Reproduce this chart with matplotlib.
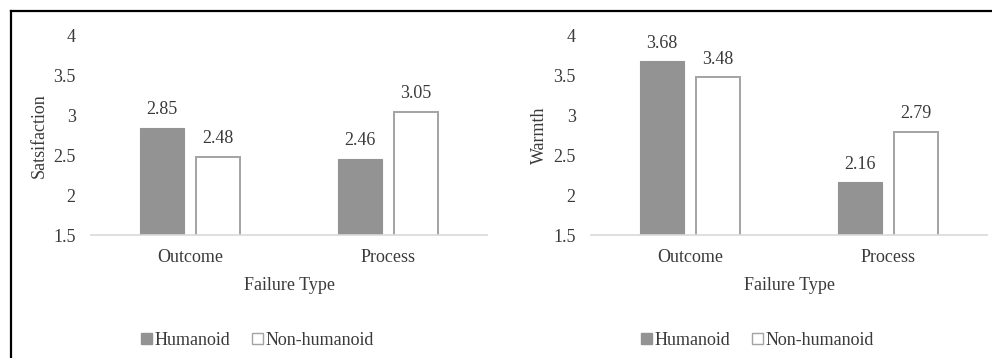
import matplotlib.pyplot as plt
import numpy as np
from matplotlib.lines import Line2D
from matplotlib.patches import Patch

plt.rcParams['font.family'] = ['Liberation Serif', 'DejaVu Serif']
plt.rcParams['font.size'] = 13

failure_types = ['Outcome', 'Process']
series_names = ['Humanoid', 'Non-humanoid']
satisfaction_humanoid = [2.85, 2.46]
satisfaction_non = [2.48, 3.05]
warmth_humanoid = [3.68, 2.16]
warmth_non = [3.48, 2.79]
y_ticks = [1.5, 2, 2.5, 3, 3.5, 4]

text_col = '#3a3a3a'
fill_gray = '#939393'
edge_gray = '#a3a3a3'
axis_gray = '#d9d9d9'

fig = plt.figure(figsize=(9.92, 3.58), dpi=100)

W, H = 992, 358


def px_axes(x0, y_top, w, h):
    return fig.add_axes([x0 / W, 1 - (y_top + h) / H, w / W, h / H])


def draw_panel(ax, hum, non, ylabel):
    x = np.arange(len(failure_types))
    bw = 0.227
    off = 0.1415
    b1 = ax.bar(x - off, hum, bw, color=fill_gray, edgecolor=fill_gray, linewidth=0.8, zorder=2)
    b2 = ax.bar(x + off, non, bw, color='white', edgecolor=edge_gray, linewidth=1.4, zorder=2)
    for bars, vals in ((b1, hum), (b2, non)):
        for rect, v in zip(bars, vals):
            ax.annotate(f'{v:.2f}', (rect.get_x() + rect.get_width() / 2, v),
                        xytext=(0, 10), textcoords='offset points',
                        ha='center', va='baseline', color=text_col)
    ax.set_ylim(1.5, 4)
    ax.set_xlim(-0.5, 1.5)
    ax.set_yticks(y_ticks)
    ax.set_yticklabels([f'{t:g}' for t in y_ticks])
    ax.set_xticks(x)
    ax.set_xticklabels(failure_types)
    ax.tick_params(length=0, colors=text_col, labelsize=13)
    ax.tick_params(axis='y', pad=11)
    ax.tick_params(axis='x', pad=10)
    for s in ('top', 'right', 'left'):
        ax.spines[s].set_visible(False)
    ax.spines['bottom'].set_color(axis_gray)
    ax.spines['bottom'].set_linewidth(1.2)
    ax.set_xlabel('Failure Type', color=text_col, labelpad=8)
    ax.set_ylabel(ylabel, color=text_col, labelpad=4)
    handles = [Patch(facecolor=fill_gray, edgecolor=fill_gray),
               Patch(facecolor='white', edgecolor=edge_gray, linewidth=1)]
    leg = ax.legend(handles, series_names, loc='center', bbox_to_anchor=(0.42, -0.53),
                    ncol=2, frameon=False, handlelength=0.6, handleheight=0.6,
                    handletextpad=0.15, columnspacing=1.2, fontsize=13)
    for t in leg.get_texts():
        t.set_color(text_col)


ax1 = px_axes(91, 36, 396, 199)
draw_panel(ax1, satisfaction_humanoid, satisfaction_non, 'Satsifaction')

ax2 = px_axes(591, 36, 396, 199)
draw_panel(ax2, warmth_humanoid, warmth_non, 'Warmth')

# outer frame, top and left edges
fig.add_artist(Line2D([10.5 / W, 1], [1 - 11 / H, 1 - 11 / H], color='black', lw=1.6))
fig.add_artist(Line2D([11 / W, 11 / W], [0, 1 - 10.5 / H], color='black', lw=1.6))

fig.savefig('out.png', dpi=100)
